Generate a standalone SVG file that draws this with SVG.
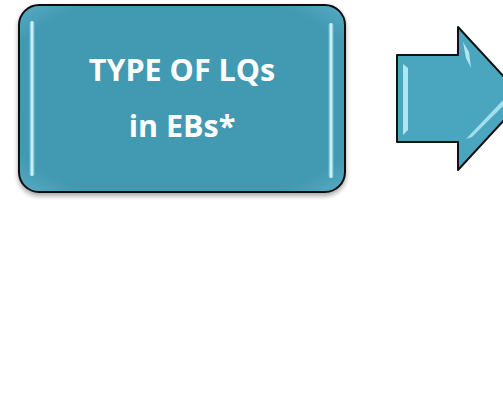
<svg xmlns="http://www.w3.org/2000/svg" width="503" height="408" viewBox="0 0 503 408">
<defs>
<filter id="sh" x="-10%" y="-10%" width="120%" height="130%">
<feGaussianBlur in="SourceAlpha" stdDeviation="2.5"/>
<feOffset dy="3"/>
<feComponentTransfer><feFuncA type="linear" slope="0.35"/></feComponentTransfer>
<feMerge><feMergeNode/><feMergeNode in="SourceGraphic"/></feMerge>
</filter>
<linearGradient id="glow" x1="0" y1="0" x2="1" y2="0">
<stop offset="0" stop-color="#9fe9f7" stop-opacity="0.4"/>
<stop offset="0.5" stop-color="#eaffff"/>
<stop offset="1" stop-color="#9fe9f7" stop-opacity="0.4"/>
</linearGradient>
<radialGradient id="boxfill" cx="0.5" cy="0.5" r="0.72">
<stop offset="0.8" stop-color="#4399b2"/>
<stop offset="1" stop-color="#5aafc6"/>
</radialGradient>
</defs>
<style>
.lbl{font-family:"Open Sans","Liberation Sans",sans-serif;font-weight:bold;font-size:30.5px;fill:#ffffff;text-anchor:middle}
</style>
<g id="box">
<rect x="19" y="5" width="326" height="187" rx="20" ry="20" fill="url(#boxfill)" stroke="#111" stroke-width="2" filter="url(#sh)"/>
<rect x="29.5" y="21" width="5" height="155" rx="2.5" fill="url(#glow)"/>
<rect x="328.5" y="23" width="5" height="155" rx="2.5" fill="url(#glow)"/>
<text class="lbl" x="182" y="81">TYPE OF LQs</text>
<text class="lbl" x="182" y="137">in EBs*</text>
</g>
<g id="arrow">
<path d="M397,55 L458,55 L458,27 L524,98.5 L458,170 L458,142 L397,142 Z" fill="#4aa6bf" stroke="#111" stroke-width="2" stroke-linejoin="round"/>
<path d="M403,64 L408,68 L408,130 L403,135 Z" fill="#c8f6ff" opacity="0.8"/>
<path d="M463,42 L469,52 L471,68 L466,58 Z" fill="#c8f6ff" opacity="0.8"/>
<path d="M466,139 L472,137 L503,106 L503,100 Z" fill="#c8f6ff" opacity="0.7"/>
</g>
<g id="connectors"></g>
</svg>
